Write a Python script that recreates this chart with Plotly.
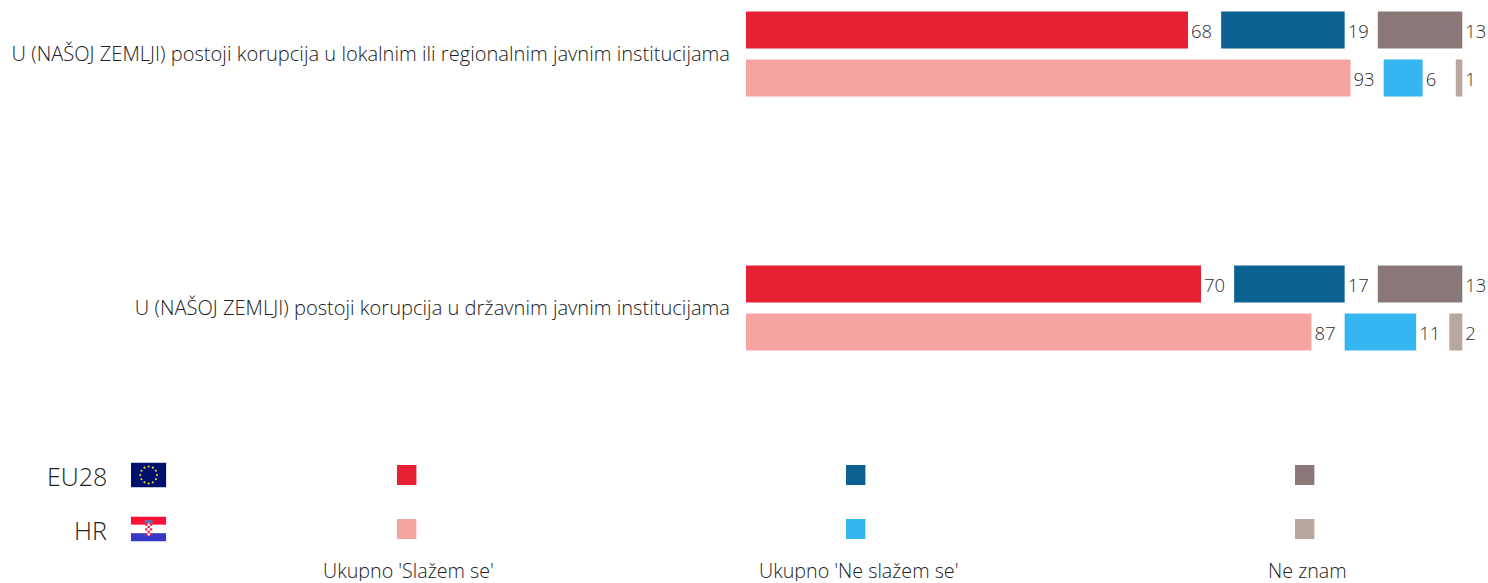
import base64
import math
import plotly.graph_objects as go

categories = ["U (NAŠOJ ZEMLJI) postoji korupcija u lokalnim ili regionalnim javnim institucijama",
              "U (NAŠOJ ZEMLJI) postoji korupcija u državnim javnim institucijama"]
responses = ["Ukupno 'Slažem se'", "Ukupno 'Ne slažem se'", "Ne znam"]
eu28 = [[68, 70], [19, 17], [13, 13]]
hr = [[93, 87], [6, 11], [1, 2]]
eu_colors = ["#E62134", "#0B6190", "#8A7879"]
hr_colors = ["#F6A4A1", "#35B6F0", "#B7A7A0"]
GAP = 5.1  # units of blank space between the stacked segments

FONT = "Open Sans"
W, H = 1488, 583
fig = go.Figure()
for name, rows, colors in (("EU28", eu28, eu_colors), ("HR", hr, hr_colors)):
    base = [0, 0]
    for resp, vals, col in zip(responses, rows, colors):
        fig.add_bar(y=categories, x=vals, base=base, orientation="h", name=f"{name} {resp}",
                    offsetgroup=name, marker=dict(color=col, line_width=0), showlegend=False,
                    text=vals, textposition="outside", cliponaxis=False,
                    textfont=dict(family=FONT, size=18.5, color="#2e2e2e", weight=300))
        base = [b + v + GAP for b, v in zip(base, vals)]

px_per_unit = 6.5
band = 254
shapes, annotations, images = [], [], []


def flag(svg):
    return "data:image/svg+xml;base64," + base64.b64encode(svg.encode()).decode()


stars = "".join(
    f'<circle cx="{18 + 8.5 * math.sin(i * math.pi / 6):.2f}" '
    f'cy="{12.5 - 8.5 * math.cos(i * math.pi / 6):.2f}" r="1.1" fill="#E8D820"/>'
    for i in range(12))
eu_svg = f'<svg xmlns="http://www.w3.org/2000/svg" width="36" height="25"><rect width="36" height="25" fill="#00106F"/>{stars}</svg>'
checks = "".join(
    f'<rect x="{14.5 + 2.4 * c:.1f}" y="{7 + 2.4 * r:.1f}" width="2.4" height="2.4" fill="{"#E8203A" if (r + c) % 2 == 0 else "#FFFFFF"}"/>'
    for r in range(5) for c in range(3))
hr_svg = ('<svg xmlns="http://www.w3.org/2000/svg" width="36" height="25">'
          '<rect width="36" height="8.3" fill="#FF0F38"/><rect y="8.3" width="36" height="8.4" fill="#FFFFFF"/>'
          '<rect y="16.7" width="36" height="8.3" fill="#3838C8"/>'
          f'<rect x="14" y="3.5" width="8" height="3.5" fill="#6A6FA8"/>{checks}</svg>')

for label, ypx, colors, svg in (("EU28", 475, eu_colors, eu_svg), ("HR", 529, hr_colors, hr_svg)):
    annotations.append(dict(text=label, xref="paper", yref="paper", x=106 / W, y=1 - (ypx + 1) / H,
                            xanchor="right", yanchor="middle", showarrow=False, xshift=3,
                            font=dict(family=FONT, size=25, color="#222222", weight=300)))
    images.append(dict(source=flag(svg), xref="paper", yref="paper", x=131 / W, y=1 - (ypx - 12.5) / H,
                       sizex=35.3 / W, sizey=25 / H, xanchor="left", yanchor="top", sizing="stretch", layer="above"))
    for cx, col in zip((406.7, 855.7, 1304.7), colors):
        shapes.append(dict(type="rect", xref="paper", yref="paper", line_width=0, fillcolor=col,
                           x0=(cx - 9.7) / W, x1=(cx + 9.7) / W, y0=1 - (ypx + 10) / H, y1=1 - (ypx - 10) / H))

for resp, cx in zip(responses, (409, 858, 1307)):
    annotations.append(dict(text=resp, xref="paper", yref="paper", x=cx / W, y=0,
                            xanchor="center", yanchor="bottom", showarrow=False, height=21,
                            font=dict(family=FONT, size=19.7, color="#222222", weight=300)))

fig.update_layout(
    width=W, height=H, margin=dict(l=0, r=0, t=0, b=0), autosize=False,
    paper_bgcolor="white", plot_bgcolor="white",
    barmode="group", bargap=1 - 96 / band, bargroupgap=11 / 48,
    xaxis=dict(domain=[746 / W, 1], range=[0, (W - 746) / px_per_unit], visible=False, fixedrange=True),
    yaxis=dict(type="category", categoryorder="array", categoryarray=categories,
               range=[(H - 54) / band, -54 / band], showgrid=False, zeroline=False, showline=False,
               ticks="outside", ticklen=11, tickcolor="rgba(0,0,0,0)",
               tickfont=dict(family=FONT, size=20.1, color="#222222", weight=300)),
    shapes=shapes, annotations=annotations, images=images,
)
fig.write_html("out.html", config=dict(displayModeBar=False),
               post_script="document.body.style.margin='0';document.documentElement.style.overflow='hidden';")
